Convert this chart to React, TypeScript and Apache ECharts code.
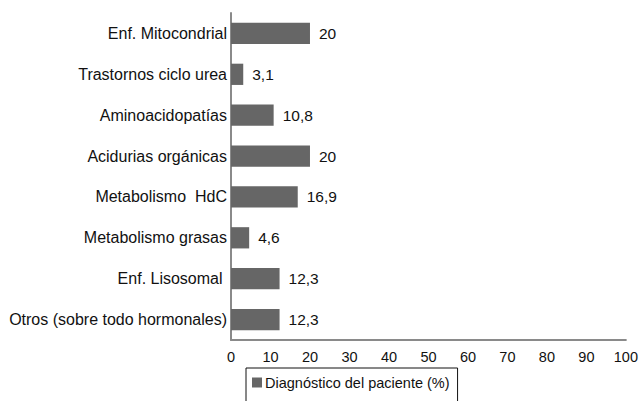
import React, { useEffect, useRef } from "react";
import * as echarts from "echarts";

const categories = [
  "Enf. Mitocondrial",
  "Trastornos ciclo urea",
  "Aminoacidopatías",
  "Acidurias orgánicas",
  "Metabolismo  HdC",
  "Metabolismo grasas",
  "Enf. Lisosomal ",
  "Otros (sobre todo hormonales)",
];
const values = [20, 3.1, 10.8, 20, 16.9, 4.6, 12.3, 12.3];
const seriesName = "Diagnóstico del paciente (%)";
const xMin = 0;
const xMax = 100;
const xInterval = 10;

const FONT = "'Liberation Sans', Arial, Helvetica, sans-serif";

export default function App() {
  const ref = useRef<HTMLDivElement>(null);
  useEffect(() => {
    if (!ref.current) return;
    const chart = echarts.init(ref.current, null, { renderer: "svg" });
    chart.setOption({
      animation: false,
      backgroundColor: "#ffffff",
      textStyle: { fontFamily: FONT },
      grid: { left: 231, right: 14, top: 13, bottom: 61, containLabel: false },
      xAxis: {
        type: "value",
        min: xMin,
        max: xMax,
        interval: xInterval,
        axisLine: { show: true, lineStyle: { color: "#8a8a8a", width: 2 } },
        axisTick: { show: false },
        splitLine: { show: false },
        axisLabel: { color: "#111", fontSize: 14.5, fontFamily: FONT, margin: 9 },
      },
      yAxis: {
        type: "category",
        data: categories,
        inverse: true,
        axisLine: { show: true, lineStyle: { color: "#8a8a8a", width: 2 } },
        axisTick: { show: false },
        axisLabel: { color: "#111", fontSize: 16, fontFamily: FONT, margin: 4 },
      },
      legend: {
        data: [seriesName],
        left: 246,
        top: 368,
        orient: "horizontal",
        borderColor: "#111",
        borderWidth: 1,
        padding: [7, 8, 20, 6],
        itemWidth: 10,
        itemHeight: 10,
        itemGap: 4,
        icon: "rect",
        textStyle: { color: "#111", fontSize: 14.5, fontFamily: FONT, padding: [0, 0, 0, -2] },
      },
      series: [
        {
          name: seriesName,
          type: "bar",
          data: values,
          barWidth: "52%",
          itemStyle: { color: "#666666" },
          label: {
            show: true,
            position: "right",
            distance: 9,
            color: "#111",
            fontSize: 15.5,
            fontFamily: FONT,
            formatter: (p: any) => String(p.value).replace(".", ","),
          },
        },
      ],
    });
    return () => chart.dispose();
  }, []);
  return <div ref={ref} style={{ width: 641, height: 401, position: "absolute", left: 0, top: 0 }} />;
}
